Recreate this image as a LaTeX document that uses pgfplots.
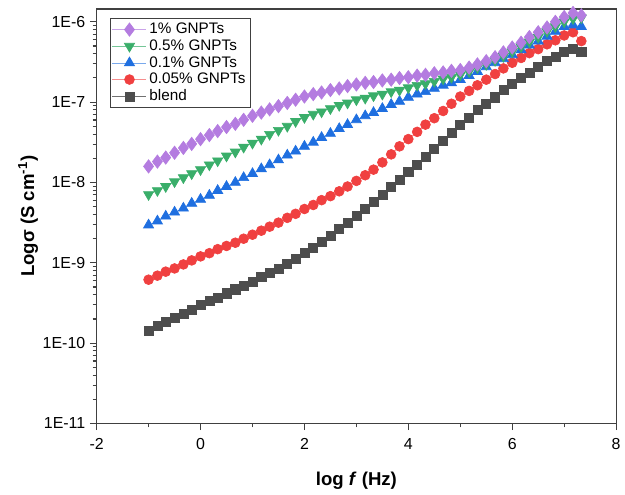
\documentclass[border=0pt]{standalone}
\usepackage{fontspec}
\setmainfont{Liberation Sans}
\usepackage{pgfplots}
\pgfplotsset{compat=1.18}
\usepackage{pgfplotstable}

\definecolor{cpur}{HTML}{B47CE0}
\definecolor{cgrn}{HTML}{3AAE6A}
\definecolor{cblu}{HTML}{1F6FE0}
\definecolor{cred}{HTML}{F04040}
\definecolor{cblk}{HTML}{4D4D4D}
\definecolor{frame}{HTML}{404040}

% columns: log f, log sigma for each sample
\pgfplotstableread{
x blend red blue green purple
-1.00 -9.85 -9.21 -8.53 -8.15 -7.80
-0.83 -9.79 -9.16 -8.48 -8.10 -7.74
-0.67 -9.74 -9.11 -8.42 -8.05 -7.69
-0.50 -9.69 -9.07 -8.37 -7.99 -7.63
-0.33 -9.63 -9.02 -8.32 -7.94 -7.57
-0.17 -9.58 -8.97 -8.26 -7.89 -7.52
0.00 -9.52 -8.92 -8.21 -7.84 -7.46
0.17 -9.47 -8.88 -8.16 -7.78 -7.41
0.33 -9.43 -8.83 -8.10 -7.73 -7.36
0.50 -9.38 -8.79 -8.05 -7.67 -7.31
0.67 -9.33 -8.75 -8.00 -7.62 -7.27
0.83 -9.29 -8.70 -7.94 -7.56 -7.22
1.00 -9.24 -8.65 -7.89 -7.51 -7.17
1.17 -9.18 -8.60 -7.83 -7.46 -7.13
1.33 -9.13 -8.55 -7.78 -7.40 -7.09
1.50 -9.07 -8.50 -7.72 -7.35 -7.05
1.67 -9.01 -8.44 -7.66 -7.30 -7.01
1.83 -8.95 -8.39 -7.61 -7.24 -6.97
2.00 -8.88 -8.33 -7.55 -7.19 -6.93
2.17 -8.81 -8.28 -7.50 -7.15 -6.90
2.33 -8.74 -8.22 -7.44 -7.12 -6.88
2.50 -8.66 -8.17 -7.39 -7.08 -6.85
2.67 -8.58 -8.11 -7.33 -7.04 -6.83
2.83 -8.50 -8.05 -7.28 -7.01 -6.80
3.00 -8.41 -7.98 -7.22 -6.97 -6.78
3.17 -8.33 -7.91 -7.17 -6.95 -6.76
3.33 -8.24 -7.84 -7.13 -6.92 -6.75
3.50 -8.15 -7.75 -7.08 -6.90 -6.73
3.67 -8.06 -7.65 -7.03 -6.87 -6.72
3.83 -7.97 -7.55 -6.99 -6.85 -6.70
4.00 -7.87 -7.46 -6.94 -6.82 -6.69
4.17 -7.78 -7.37 -6.90 -6.79 -6.67
4.33 -7.68 -7.28 -6.87 -6.77 -6.66
4.50 -7.58 -7.20 -6.83 -6.74 -6.64
4.67 -7.48 -7.11 -6.79 -6.71 -6.63
4.83 -7.38 -7.02 -6.76 -6.69 -6.61
5.00 -7.28 -6.93 -6.72 -6.66 -6.60
5.17 -7.19 -6.86 -6.67 -6.62 -6.57
5.33 -7.10 -6.79 -6.62 -6.57 -6.53
5.50 -7.02 -6.72 -6.56 -6.53 -6.49
5.67 -6.94 -6.65 -6.51 -6.48 -6.44
5.83 -6.85 -6.58 -6.46 -6.43 -6.38
6.00 -6.77 -6.51 -6.41 -6.37 -6.32
6.17 -6.70 -6.45 -6.35 -6.31 -6.26
6.33 -6.63 -6.39 -6.29 -6.25 -6.19
6.50 -6.56 -6.34 -6.24 -6.19 -6.13
6.67 -6.49 -6.28 -6.18 -6.12 -6.07
6.83 -6.43 -6.23 -6.12 -6.06 -6.00
7.00 -6.37 -6.17 -6.06 -6.00 -5.94
7.17 -6.34 -6.13 -6.04 -5.96 -5.89
7.33 -6.37 -6.24 -6.06 -5.95 -5.92
}\data

\begin{document}
\begin{tikzpicture}
\begin{axis}[
  scale only axis, width=391pt, height=312pt,
  xmin=-2, xmax=8, ymin=-11, ymax=-5.84,
  xtick={-2,0,...,8}, minor x tick num=1,
  ytick={-11,-10,-9,-8,-7,-6},
  yticklabels={1E-11,1E-10,1E-9,1E-8,1E-7,1E-6},
  minor ytick={-10.699,-10.523,-10.398,-10.301,-10.222,-10.155,-10.097,-10.046,
    -9.699,-9.523,-9.398,-9.301,-9.222,-9.155,-9.097,-9.046,
    -8.699,-8.523,-8.398,-8.301,-8.222,-8.155,-8.097,-8.046,
    -7.699,-7.523,-7.398,-7.301,-7.222,-7.155,-7.097,-7.046,
    -6.699,-6.523,-6.398,-6.301,-6.222,-6.155,-6.097,-6.046},
  xtick pos=bottom, ytick pos=left,
  tick align=outside,
  major tick length=5pt, minor tick length=3pt,
  every tick/.style={frame, line width=0.8pt},
  axis line style={frame, line width=0.9pt},
  /pgf/number format/assume math mode=true,
  tick label style={font=\fontsize{12}{14}\selectfont},
  xticklabel style={yshift=-3pt},
  xlabel={\bfseries log \textit{f} (Hz)},
  ylabel={\bfseries Logσ (S cm\textsuperscript{-1})},
  label style={font=\fontsize{14}{16}\selectfont},
  xlabel style={at={(axis description cs:0.5,-0.137)}, anchor=center},
  ylabel style={at={(axis description cs:-0.132,0.5)}, anchor=center},
  reverse legend,
  legend style={at={(0.025,0.978)}, anchor=north west, draw=frame, line width=0.8pt,
    font=\fontsize{11.5}{13}\selectfont, inner sep=1.5pt, row sep=-1pt,
    cells={anchor=west}},
  legend image code/.code={
    \draw[mark repeat=2,mark phase=2] plot coordinates {(0cm,0cm) (0.45cm,0cm) (0.9cm,0cm)};},
  clip=false,
  after end axis/.code={
    \path (rel axis cs:-0.186,-0.1707) rectangle (rel axis cs:1.0134,1.0216);},
]
\addplot[cblk!80, line width=0.5pt, mark=square*, mark size=3.4pt,
  mark options={solid, fill=cblk, draw=cblk}] table[x=x, y=blend] {\data};
\addlegendentry{blend}
\addplot[cred!60, line width=0.5pt, mark=*, mark size=3.7pt,
  mark options={solid, fill=cred, draw=cred}] table[x=x, y=red] {\data};
\addlegendentry{0.05\% GNPTs}
\addplot[cblu!60, line width=0.5pt, mark=triangle*, mark size=4.4pt,
  mark options={solid, fill=cblu, draw=cblu}] table[x=x, y=blue] {\data};
\addlegendentry{0.1\% GNPTs}
\addplot[cgrn!70, line width=0.5pt, mark=triangle*, mark size=4.4pt,
  mark options={solid, fill=cgrn, draw=cgrn, rotate=180}] table[x=x, y=green] {\data};
\addlegendentry{0.5\% GNPTs}
\addplot[cpur!70, line width=0.5pt, mark=diamond*, mark size=5pt,
  mark options={solid, fill=cpur, draw=cpur}] table[x=x, y=purple] {\data};
\addlegendentry{1\% GNPTs}
\end{axis}
\end{tikzpicture}
\end{document}
